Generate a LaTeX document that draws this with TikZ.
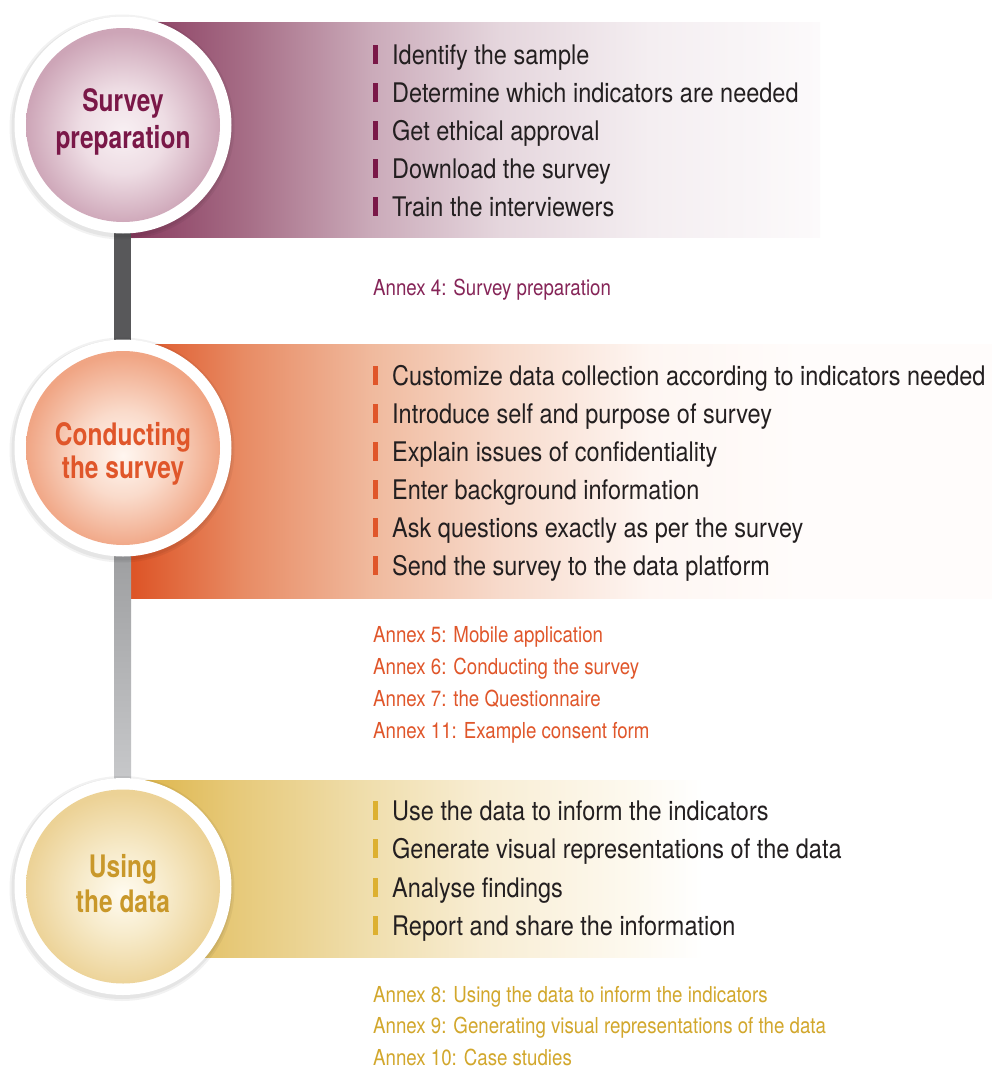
\documentclass[tikz,border=0pt]{standalone}
\usepackage{fontspec}
\setmainfont{TeX Gyre Heros}[FakeStretch=0.87]
\newfontfamily\annexfont{TeX Gyre Heros}[FakeStretch=0.85]
\newfontfamily\titlefont{TeX Gyre Heros}[FakeStretch=0.79]
\usetikzlibrary{calc}

\definecolor{bodytext}{HTML}{231F20}
\definecolor{plum}{HTML}{7A1848}
\definecolor{plumannex}{HTML}{862558}
\definecolor{orng}{HTML}{E0562A}
\definecolor{gold}{HTML}{C9982A}
\definecolor{goldannex}{HTML}{D2A72C}
\definecolor{goldbul}{HTML}{DDB030}
\definecolor{barA}{HTML}{58585A}
\definecolor{barTop}{HTML}{8B8C8E}
\definecolor{barBot}{HTML}{DADBDD}

% band 1 colours
\definecolor{bA1}{HTML}{8A3C60}
\definecolor{bA2}{HTML}{A66D86}
\definecolor{bA3}{HTML}{CBABBA}
\definecolor{bA4}{HTML}{E5D6DD}
\definecolor{bA5}{HTML}{F4EEF1}
\definecolor{bA6}{HTML}{FCFAFB}
% band 2 colours
\definecolor{bB1}{HTML}{DD5426}
\definecolor{bB2}{HTML}{E88C65}
\definecolor{bB3}{HTML}{F0BA9E}
\definecolor{bB4}{HTML}{F7DACB}
\definecolor{bB5}{HTML}{FEF6F2}
\definecolor{bB6}{HTML}{FFFCFB}
% band 3 colours
\definecolor{bC1}{HTML}{DDB448}
\definecolor{bC2}{HTML}{E6C877}
\definecolor{bC3}{HTML}{EFDDAA}
\definecolor{bC4}{HTML}{F8EDD3}
\definecolor{bC5}{HTML}{FDF9EF}
\definecolor{bC6}{HTML}{FFFFFF}

% ball colours
\definecolor{kA0}{HTML}{F8F0F3}
\definecolor{kA1}{HTML}{EEDDE4}
\definecolor{kA2}{HTML}{CDA5B7}
\definecolor{kB0}{HTML}{FFF6F0}
\definecolor{kB1}{HTML}{FADBCB}
\definecolor{kB2}{HTML}{F0A584}
\definecolor{kC0}{HTML}{FFFBF0}
\definecolor{kC1}{HTML}{F7EBCB}
\definecolor{kC2}{HTML}{ECD296}

% band 1: x 131..820
\pgfdeclarehorizontalshading{bandA}{100bp}{color(0bp)=(bA1); color(25bp)=(bA1);
  color(33.27bp)=(bA2); color(42.56bp)=(bA3); color(51.78bp)=(bA4);
  color(62.66bp)=(bA5); color(75bp)=(bA6); color(100bp)=(bA6)}
% band 2: x 131..992
\pgfdeclarehorizontalshading{bandB}{100bp}{color(0bp)=(bB1); color(25bp)=(bB1);
  color(31.62bp)=(bB2); color(39.05bp)=(bB3); color(46.43bp)=(bB4);
  color(55.14bp)=(bB5); color(63.85bp)=(bB6); color(100bp)=(bB6)}
% band 3: x 131..992
\pgfdeclarehorizontalshading{bandC}{100bp}{color(0bp)=(bC1); color(25bp)=(bC1);
  color(30.75bp)=(bC2); color(38.30bp)=(bC3); color(45.43bp)=(bC4);
  color(54.14bp)=(bC5); color(58.20bp)=(bC6); color(100bp)=(bC6)}

\pgfdeclareradialshading{ballA}{\pgfpoint{0bp}{-2bp}}{color(0bp)=(kA0); color(11bp)=(kA1); color(25bp)=(kA2); color(50bp)=(kA2)}
\pgfdeclareradialshading{ballB}{\pgfpoint{0bp}{-2bp}}{color(0bp)=(kB0); color(11bp)=(kB1); color(25bp)=(kB2); color(50bp)=(kB2)}
\pgfdeclareradialshading{ballC}{\pgfpoint{0bp}{-2bp}}{color(0bp)=(kC0); color(11bp)=(kC1); color(25bp)=(kC2); color(50bp)=(kC2)}

\tikzset{
  ring/.style={circle, fill=white, minimum size=217pt, inner sep=0pt},
  ringshadow/.style={circle, fill=black, opacity=0.05, minimum size=#1, inner sep=0pt},
  ball/.style={circle, shading=#1, minimum size=194pt, inner sep=0pt},
  title/.style={anchor=base, inner sep=0pt, font=\titlefont\bfseries\fontsize{31}{31}\selectfont},
  body/.style={anchor=base west, inner sep=0pt, text=bodytext, font=\fontsize{27}{30}\selectfont},
  annex/.style={anchor=base west, inner sep=0pt, font=\annexfont\fontsize{22}{26}\selectfont},
}

\begin{document}
\begin{tikzpicture}[x=1pt,y=-1pt]
\useasboundingbox (0,0) rectangle (992,1068);
\fill[white] (0,0) rectangle (992,1068);

% positions of the three stage circles
\coordinate (p1) at (123,125);
\coordinate (p2) at (123,448);
\coordinate (p3) at (123,886.5);

% bands
\fill[shading=bandA] (131,22) rectangle (820,237);
\fill[shading=bandB] (131,344) rectangle (992,598);
\fill[shading=bandC] (131,780) rectangle (992,957);

% connecting bars
\fill[barA] ($(p1)+(-9,0)$) rectangle ($(p2)+(8,0)$);
\fill[top color=barTop, bottom color=barBot] ($(p2)+(-9,0)$) rectangle ($(p3)+(8,0)$);

% circles
\foreach \p/\sh/\n in {p1/ballA/1, p2/ballB/2, p3/ballC/3}{
  \node[ringshadow=225pt] at ($(\p)+(-1,2)$) {};
  \node[ringshadow=221pt] at ($(\p)+(-1,2)$) {};
  \node[ring] (c\n) at (\p) {};
  \node[ball=\sh] (k\n) at (\p) {};
}

% titles
\node[title, text=plum] (s1a) at (123,111) {Survey};
\node[title, text=plum] (s1b) at (123,148) {preparation};
\node[title, text=orng] (s2a) at (123,445) {Conducting};
\node[title, text=orng] (s2b) at (123,478) {the survey};
\node[title, text=gold] (s3a) at (123,877) {Using};
\node[title, text=gold] (s3b) at (123,912) {the data};

% stage 1 items
\foreach \y/\t [count=\i] in {64/Identify the sample, 102/Determine which indicators are needed,
  140/Get ethical approval, 178/Download the survey, 216/Train the interviewers}{
  \fill[plum] (373,\y-19) rectangle (378,\y);
  \node[body] (a\i) at (392,\y) {\t};
}
\node[annex, text=plumannex] (an4) at (373,295) {Annex 4: Survey preparation};

% stage 2 items
\foreach \y/\t [count=\i] in {385/Customize data collection according to indicators needed,
  423/Introduce self and purpose of survey, 461/Explain issues of confidentiality,
  499/Enter background information, 537/Ask questions exactly as per the survey,
  575/Send the survey to the data platform}{
  \fill[orng] (373,\y-19) rectangle (378,\y);
  \node[body] (b\i) at (392,\y) {\t};
}
\node[annex, text=orng] (an5) at (373,642) {Annex 5: Mobile application};
\node[annex, text=orng] (an6) at (373,674) {Annex 6: Conducting the survey};
\node[annex, text=orng] (an7) at (373,706) {Annex 7: the Questionnaire};
\node[annex, text=orng] (an11) at (373,738) {Annex 11: Example consent form};

% stage 3 items
\foreach \y/\t [count=\i] in {820/Use the data to inform the indicators,
  858/Generate visual representations of the data, 897/Analyse findings,
  935/Report and share the information}{
  \fill[goldbul] (373,\y-19) rectangle (378,\y);
  \node[body] (d\i) at (392,\y) {\t};
}
\node[annex, text=goldannex] (an8) at (373,1002) {Annex 8: Using the data to inform the indicators};
\node[annex, text=goldannex] (an9) at (373,1033) {Annex 9: Generating visual representations of the data};
\node[annex, text=goldannex] (an10) at (373,1065) {Annex 10: Case studies};
\end{tikzpicture}
\end{document}
